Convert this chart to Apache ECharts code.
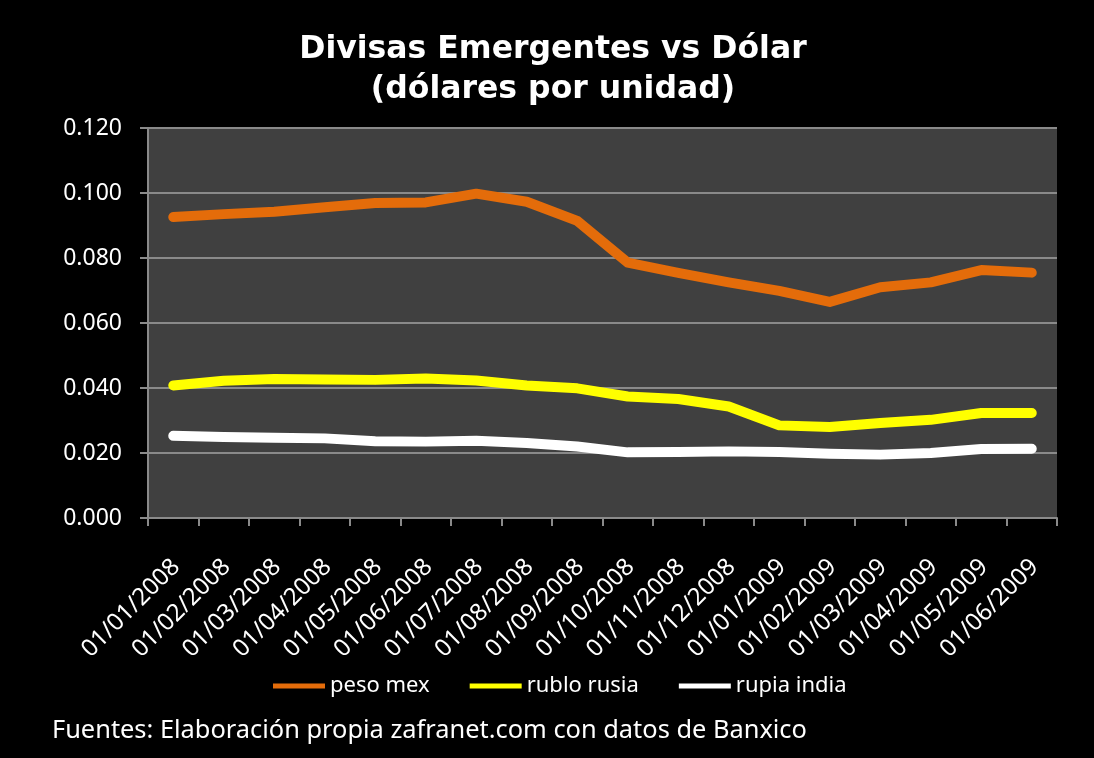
<!DOCTYPE html>
<html lang="es">

<head>
    <meta charset="UTF-8">
    <title>Divisas Emergentes vs Dólar</title>
    <style>
        html, body {
            margin: 0;
            padding: 0;
            background: #000;
        }

        #main {
            width: 1094px;
            height: 758px;
        }
    </style>
    <script src="https://cdn.jsdelivr.net/npm/echarts@6/dist/echarts.min.js"></script>
</head>

<body>
    <div id="main"></div>

    <script>
        // datos (dólares por unidad)
        var fechas = ['01/01/2008', '01/02/2008', '01/03/2008', '01/04/2008', '01/05/2008', '01/06/2008',
            '01/07/2008', '01/08/2008', '01/09/2008', '01/10/2008', '01/11/2008', '01/12/2008',
            '01/01/2009', '01/02/2009', '01/03/2009', '01/04/2009', '01/05/2009', '01/06/2009'];
        var pesoMex = [0.0926, 0.0935, 0.0942, 0.0956, 0.0969, 0.0971, 0.0998, 0.0973, 0.0914,
            0.0786, 0.0754, 0.0725, 0.0699, 0.0665, 0.0710, 0.0725, 0.0763, 0.0755];
        var rubloRusia = [0.0408, 0.0422, 0.0428, 0.0426, 0.0425, 0.0429, 0.0423, 0.0408, 0.0399,
            0.0374, 0.0366, 0.0343, 0.0285, 0.0280, 0.0292, 0.0302, 0.0323, 0.0323];
        var rupiaIndia = [0.0253, 0.0249, 0.0247, 0.0245, 0.0236, 0.0235, 0.0238, 0.0231, 0.0220,
            0.0202, 0.0203, 0.0205, 0.0203, 0.0198, 0.0195, 0.0200, 0.0212, 0.0213];
        var ticksY = [0, 0.02, 0.04, 0.06, 0.08, 0.10, 0.12];

        var nombres = ['peso mex', 'rublo rusia', 'rupia india'];
        var colores = ['#E46C0A', '#FFFF00', '#FFFFFF'];
        var valores = [pesoMex, rubloRusia, rupiaIndia];

        var fuente = '"Noto Sans", "Open Sans", sans-serif';
        var gris = '#8a8a8a';

        var myChart = echarts.init(document.getElementById('main'));

        var series = [];
        for (var i = 0; i < nombres.length; i++) {
            series.push({
                name: nombres[i],
                type: 'line',
                data: valores[i],
                symbol: 'none',
                color: colores[i],
                lineStyle: { width: 10, color: colores[i], cap: 'round', join: 'round' }
            });
        }

        var option = {
            backgroundColor: '#000',
            animation: false,
            title: [
                {
                    text: 'Divisas Emergentes vs Dólar\n(dólares por unidad)',
                    left: 553,
                    textAlign: 'center',
                    top: 30,
                    padding: 0,
                    textStyle: {
                        color: '#fff',
                        fontFamily: '"DejaVu Sans", Verdana, sans-serif',
                        fontWeight: 'bold',
                        fontSize: 31.5,
                        lineHeight: 40
                    }
                },
                {
                    text: 'Fuentes: Elaboración propia zafranet.com con datos de Banxico',
                    left: 52,
                    top: 716,
                    padding: 0,
                    textStyle: {
                        color: '#fff',
                        fontFamily: fuente,
                        fontWeight: 'normal',
                        fontSize: 25.4,
                        lineHeight: 30
                    }
                }
            ],
            legend: {
                data: nombres,
                icon: 'rect',
                left: 273,
                top: 672,
                padding: 0,
                itemWidth: 52,
                itemHeight: 5,
                itemGap: 40,
                textStyle: { color: '#fff', fontFamily: fuente, fontSize: 22, lineHeight: 28 }
            },
            grid: {
                left: 148,
                right: 37,
                top: 128,
                bottom: 240,
                show: true,
                backgroundColor: '#404040',
                borderWidth: 0,
                containLabel: false
            },
            xAxis: {
                type: 'category',
                data: fechas,
                boundaryGap: true,
                axisLine: { lineStyle: { color: gris, width: 2 } },
                axisTick: { show: true, length: 8, lineStyle: { color: gris, width: 2 } },
                axisLabel: {
                    interval: 0,
                    rotate: 45,
                    margin: 31,
                    verticalAlign: 'top',
                    padding: [0, 8, 0, 0],
                    color: '#fff',
                    fontFamily: fuente,
                    fontSize: 24
                },
                splitLine: { show: false }
            },
            yAxis: {
                type: 'value',
                min: ticksY[0],
                max: ticksY[ticksY.length - 1],
                interval: 0.02,
                axisLine: { show: true, lineStyle: { color: gris, width: 2 } },
                axisTick: { show: true, length: 8, lineStyle: { color: gris, width: 2 } },
                axisLabel: {
                    margin: 26,
                    color: '#fff',
                    fontFamily: fuente,
                    fontSize: 23,
                    formatter: function (v) { return v.toFixed(3); }
                },
                splitLine: { lineStyle: { color: gris, width: 2 } }
            },
            series: series
        };

        myChart.setOption(option);
    </script>
</body>

</html>
